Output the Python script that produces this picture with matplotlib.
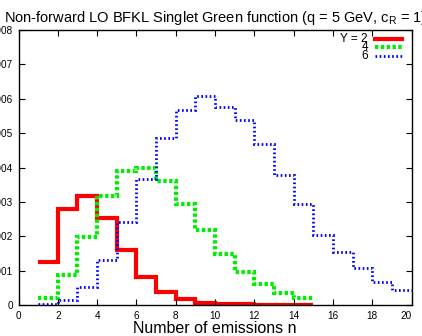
import matplotlib
matplotlib.use("Agg")
import matplotlib.pyplot as plt
import matplotlib.transforms as mtransforms
import numpy as np
from matplotlib.lines import Line2D

plt.rcParams['font.family'] = ['Liberation Sans', 'DejaVu Sans']

# bins start at n = 1, each bin spans [n, n+1)
y2 = [1.24, 2.78, 3.16, 2.52, 1.59, 0.82, 0.39, 0.17, 0.07, 0.03, 0.015, 0.007, 0.003, 0.001]
y4 = [0.19, 0.87, 1.98, 3.16, 3.89, 4.00, 3.62, 2.95, 2.17, 1.48, 0.97, 0.60, 0.34, 0.20]
y6 = [0.04, 0.14, 0.53, 1.32, 2.41, 3.67, 4.85, 5.68, 6.07, 5.77, 5.39, 4.69, 3.79, 2.95,
      2.03, 1.55, 1.08, 0.68, 0.43]
labels = ["Y = 2", "4", "6"]
xticks = list(range(0, 21, 2))
yticks = [0, 0.001, 0.002, 0.003, 0.004, 0.005, 0.006, 0.007, 0.008]

fig = plt.figure(figsize=(4.22, 3.36), dpi=100)
ax = fig.add_axes([18.5/422, 31/336, 393/422, 275/336])

styles = [dict(color='#ff0000', lw=3.0, linestyle='-'),
          dict(color='#00ee00', lw=3.0, linestyle=(0, (0.8, 0.6))),
          dict(color='#0000ff', lw=2.0, linestyle=(0, (0.6, 0.9)))]

for vals, st in zip([y2, y4, y6], styles):
    v = np.array(vals) * 1e-3
    edges = np.arange(1, len(v) + 2)
    ax.stairs(v, edges, baseline=None, **st)

ax.set_xlim(0, 20)
ax.set_ylim(0, 0.008)
ax.set_xticks(xticks)
ax.set_yticks(yticks)
ax.set_yticklabels([("%g" % t) if t != 0 else "0" for t in yticks])
ax.tick_params(direction='in', top=True, right=True, length=4, width=0.8,
               labelsize=7.2, pad=4)
for s in ax.spines.values():
    s.set_linewidth(1.0)

# last x tick label sits slightly inside the figure edge
lastlab = ax.get_xticklabels()[-1]
lastlab.set_transform(lastlab.get_transform() +
                      mtransforms.ScaledTranslation(-5/100, 0, fig.dpi_scale_trans))

ax.set_title("Non-forward LO BFKL Singlet Green function (q = 5 GeV, c$_\\mathregular{R}$ = 1)",
             fontsize=10.5, pad=6)
ax.set_xlabel("Number of emissions n", fontsize=11.5, labelpad=0)

# legend (gnuplot style: text right-aligned, sample line to the right)
for i, (lab, st) in enumerate(zip(labels, styles)):
    ypix = 38.5 + 8.7 * i
    yf = 1 - ypix / 336
    fig.text(368 / 422, yf, lab, ha='right', va='center', fontsize=8.5)
    fig.add_artist(Line2D([375 / 422, 402 / 422], [yf, yf], transform=fig.transFigure, **st))

fig.savefig("out.png", dpi=100)
